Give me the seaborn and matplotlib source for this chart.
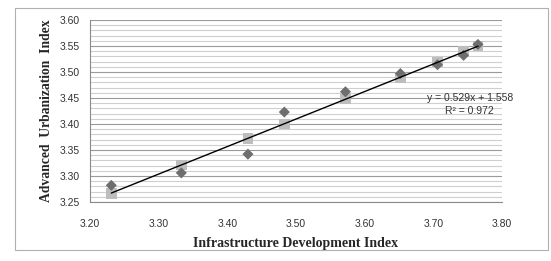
import numpy as np
import pandas as pd
import matplotlib
matplotlib.use("Agg")
import matplotlib.pyplot as plt
import seaborn as sns
from matplotlib.patches import Rectangle
from matplotlib.ticker import MultipleLocator

# data
infra_index = [3.231, 3.333, 3.430, 3.483, 3.572, 3.652, 3.706, 3.744, 3.765]
urban_actual = [3.282, 3.306, 3.342, 3.423, 3.462, 3.497, 3.514, 3.532, 3.553]
urban_fitted = [3.267, 3.321, 3.372, 3.400, 3.448, 3.490, 3.519, 3.539, 3.550]
trend_slope = 0.529
trend_intercept = 1.558
trend_r2 = 0.972

x_ticks = [3.20, 3.30, 3.40, 3.50, 3.60, 3.70, 3.80]
y_ticks = [3.25, 3.30, 3.35, 3.40, 3.45, 3.50, 3.55, 3.60]

df = pd.DataFrame({"x": infra_index, "actual": urban_actual, "fitted": urban_fitted})
trend = pd.DataFrame({"x": [min(infra_index), max(infra_index)]})
trend["y"] = trend_intercept + trend_slope * trend["x"]

sns.set_style("white")
plt.rcParams["font.family"] = ["Liberation Sans", "DejaVu Sans"]

fig = plt.figure(figsize=(5.51, 2.61), dpi=100)
ax = fig.add_axes([90 / 551, 1 - 202 / 261, 412 / 551, 182 / 261])

# outer chart border
fig.patches.append(Rectangle((15 / 551, 1 - 250 / 261), 533 / 551, 242 / 261,
                             transform=fig.transFigure, fill=False,
                             edgecolor="#b0b0b0", linewidth=0.8))

ax.set_xlim(3.20, 3.80)
ax.set_ylim(3.25, 3.60)
ax.yaxis.set_minor_locator(MultipleLocator(0.01))
ax.grid(which="major", axis="y", color="#9a9a9a", linewidth=0.8)
ax.grid(which="minor", axis="y", color="#cfcfcf", linewidth=0.8)
ax.set_axisbelow(True)

sns.scatterplot(data=df, x="x", y="fitted", ax=ax, marker="s", s=60,
                color="#bdbdbd", edgecolor="none", zorder=3)
sns.scatterplot(data=df, x="x", y="actual", ax=ax, marker="D", s=32,
                color="#6e6e6e", edgecolor="none", zorder=4)
sns.lineplot(data=trend, x="x", y="y", ax=ax, color="black", linewidth=1.0, zorder=5)

ax.set_xticks(x_ticks)
ax.set_yticks(y_ticks)
ax.set_xticklabels([f"{v:.2f}" for v in x_ticks], fontsize=7.5, color="#333333")
ax.set_yticklabels([f"{v:.2f}" for v in y_ticks], fontsize=7.5, color="#333333")
ax.tick_params(axis="both", which="major", length=3, width=0.8, color="#8a8a8a",
               direction="out", pad=4)
ax.tick_params(axis="y", which="minor", length=0)
ax.tick_params(axis="x", pad=9)

for side in ["top", "right"]:
    ax.spines[side].set_visible(False)
for side in ["left", "bottom"]:
    ax.spines[side].set_color("#8a8a8a")
    ax.spines[side].set_linewidth(0.8)

ax.set_xlabel("Infrastructure Development Index", fontsize=10, fontweight="bold",
              family="Liberation Serif", labelpad=6)
ax.set_ylabel("Advanced  Urbanization  Index", fontsize=9.8, fontweight="bold",
              family="Liberation Serif", labelpad=5)

ax.text(3.753, 3.437, f"y = {trend_slope}x + {trend_intercept}\nR² = {trend_r2}",
        ha="center", va="center", fontsize=7.5, color="#333333", linespacing=1.35)

fig.savefig("out.png", dpi=100)
